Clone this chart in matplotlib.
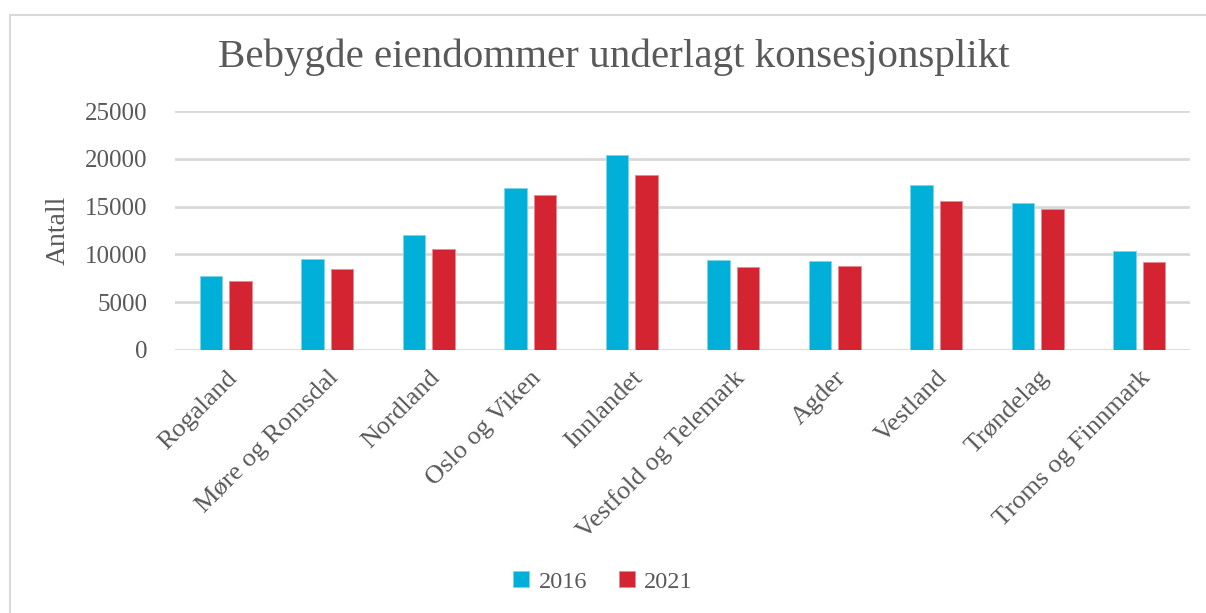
import numpy as np
import matplotlib.pyplot as plt
from matplotlib.patches import Rectangle

# data
regions = ['Rogaland', 'Møre og Romsdal', 'Nordland', 'Oslo og Viken', 'Innlandet',
           'Vestfold og Telemark', 'Agder', 'Vestland', 'Trøndelag', 'Troms og Finnmark']
values_2016 = [7750, 9550, 12050, 16950, 20400, 9400, 9300, 17250, 15350, 10350]
values_2021 = [7200, 8500, 10550, 16200, 18300, 8700, 8800, 15600, 14700, 9200]
yticks = [0, 5000, 10000, 15000, 20000, 25000]

text_col = '#595959'
grid_col = '#D9D9D9'
c2016 = '#00B0D8'
c2021 = '#D42432'

plt.rcParams['font.family'] = ['Liberation Serif', 'DejaVu Serif']

fig = plt.figure(figsize=(12.06, 6.13), dpi=100)
# chart frame, only left and top edges fall inside the image
fig.patches.append(Rectangle((10/1206, -0.2), 1.2, 1.2 - 15/613, transform=fig.transFigure,
                             fill=False, edgecolor=grid_col, linewidth=1.5))

ax = fig.add_axes([175/1206, 1 - 350/613, (1190 - 175)/1206, (350 - 111)/613])
x = np.arange(len(regions))
w = 0.225
ax.bar(x - 0.145, values_2016, w, color=c2016, edgecolor='#7FD4EA', linewidth=0.6, label='2016', zorder=3)
ax.bar(x + 0.145, values_2021, w, color=c2021, edgecolor='#E58A92', linewidth=0.6, label='2021', zorder=3)

ax.set_xlim(-0.5, len(regions) - 0.5)
ax.set_ylim(0, 25000)
ax.set_yticks(yticks)
ax.set_yticklabels([str(v) for v in yticks])
ax.yaxis.grid(True, color=grid_col, linewidth=2, zorder=0)
ax.set_axisbelow(True)
for s in ax.spines.values():
    s.set_visible(False)
ax.tick_params(axis='both', length=0, colors=text_col, labelsize=18)
ax.tick_params(axis='y', pad=20)
ax.set_xticks(x)
ax.set_xticklabels(regions, rotation=45, ha='right', rotation_mode='anchor', fontsize=19)
ax.tick_params(axis='x', pad=12)

ax.set_ylabel('Antall', color=text_col, fontsize=20, labelpad=10)
fig.text(0.509, 1 - 57/613, 'Bebygde eiendommer underlagt konsesjonsplikt',
         ha='center', va='center', color=text_col, fontsize=29.5)

leg = fig.legend(loc='center', bbox_to_anchor=(0.5, 1 - 582/613), ncol=2, frameon=False,
                 fontsize=17.5, handlelength=0.65, handleheight=0.65, handletextpad=0.4,
                 columnspacing=1.3, labelcolor=text_col)

fig.savefig('out.png', dpi=100)
